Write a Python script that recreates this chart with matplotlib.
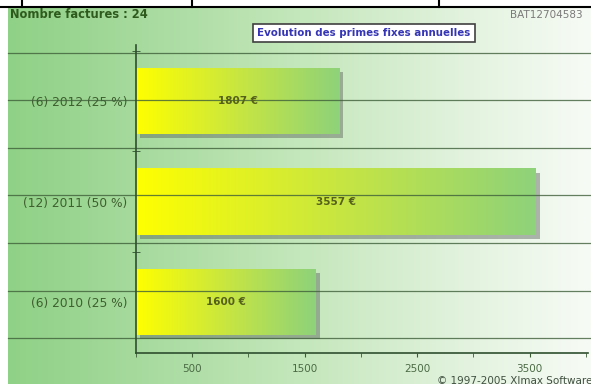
import numpy as np
import matplotlib
matplotlib.use("Agg")
import matplotlib.pyplot as plt
from matplotlib.colors import LinearSegmentedColormap
from matplotlib.lines import Line2D
import matplotlib.patheffects as pe

# data (bottom to top)
labels = ["(6) 2010 (25 %)", "(12) 2011 (50 %)", "(6) 2012 (25 %)"]
values = [1600, 3557, 1807]
nb_factures = 24
major_ticks = [500, 1500, 2500, 3500]
minor_ticks = [0, 1000, 2000, 3000, 4000]

W, H = 591, 387
fig = plt.figure(figsize=(W / 100, H / 100), dpi=100)

# green -> white background
bg = fig.add_axes([8 / W, 3 / H, 583 / W, 376 / H])
bg.axis("off")
bg_cmap = LinearSegmentedColormap.from_list(
    "bg", [(0, "#8fd186"), (0.22, "#a6da9d"), (0.5, "#c4e7bb"), (0.8, "#e4f3e0"), (1, "#f7fbf5")])
bg.imshow(np.linspace(0, 1, 256)[None, :], cmap=bg_cmap, aspect="auto", extent=(0, 1, 0, 1))
bg.set_xlim(0, 1)
bg.set_ylim(0, 1)

ax = fig.add_axes([136 / W, 34 / H, 452 / W, 308 / H])
ax.patch.set_alpha(0)

ypos = np.arange(len(values))
bar_h = 0.66
bars = ax.barh(ypos, values, height=bar_h, color="#8ed27a", zorder=2,
               path_effects=[pe.SimplePatchShadow(offset=(3, -3), shadow_rgbFace="#5a625a", alpha=0.45),
                             pe.Normal()])
bar_cmap = LinearSegmentedColormap.from_list("bar", ["#ffff00", "#c8e640", "#8ed27a"])
grad = np.linspace(0, 1, 256)[None, :]
for b, v, y in zip(bars, values, ypos):
    im = ax.imshow(grad, cmap=bar_cmap, aspect="auto",
                   extent=(0, v, y - bar_h / 2, y + bar_h / 2), zorder=3)
    im.set_clip_path(b)
    ax.text(v / 2, y, f"{v} €", ha="center", va="center", fontsize=7.5,
            fontweight="bold", color="#55601c", zorder=5)

ax.set_xlim(0, 4020)
ax.set_ylim(-0.507, 2.557)

# horizontal lines across the whole chart
for gy in np.linspace(-0.358, 2.478, 7):
    ax.axhline(gy, xmin=-128 / 452, xmax=1.01, color="#3f5f3a", lw=0.9, alpha=0.8,
               clip_on=False, zorder=4)

ax.set_xticks(major_ticks)
ax.set_xticks(minor_ticks, minor=True)
ax.tick_params(axis="x", which="both", direction="out", length=3, color="#3b5b34",
               labelsize=7.5, labelcolor="#4b6b45", pad=5)
ax.set_yticks(ypos, labels)
ax.set_yticks([0.5, 1.5, 2.5], minor=True)
ax.tick_params(axis="y", which="major", length=0, labelsize=8.8, labelcolor="#3f5f2f", pad=6)
ax.tick_params(axis="y", which="minor", direction="inout", length=6, color="#2f4f2f")

for s in ["top", "right"]:
    ax.spines[s].set_visible(False)
for s in ["left", "bottom"]:
    ax.spines[s].set_color("#2f4f2f")
    ax.spines[s].set_linewidth(1.2)
    ax.spines[s].set_zorder(6)

# texts
fig.text(10 / W, 1 - 14 / H, f"Nombre factures : {nb_factures}", fontsize=8.3,
         fontweight="bold", color="#2f5a1e", va="center", ha="left")
fig.text(364 / W, 1 - 33 / H, "Evolution des primes fixes annuelles", fontsize=7.4,
         fontweight="bold", color="#3535b5", ha="center", va="center",
         bbox=dict(boxstyle="square,pad=0.4", fc="white", ec="#404040", lw=1.2))
fig.text(510 / W, 1 - 15 / H, "BAT12704583", fontsize=7.5, color="#7a7a7a", ha="left", va="center")
fig.text(437 / W, 1 - 381 / H, "© 1997-2005 Xlmax Software", fontsize=7.5, color="#405040",
         ha="left", va="center")

# table border at the top
fig.add_artist(Line2D([0, 1], [1 - 7 / H] * 2, transform=fig.transFigure, color="black", lw=1.5))
for x in [22, 192, 439]:
    fig.add_artist(Line2D([x / W] * 2, [1 - 7 / H, 1], transform=fig.transFigure, color="black", lw=1.5))

fig.savefig("out.png", dpi=100)
